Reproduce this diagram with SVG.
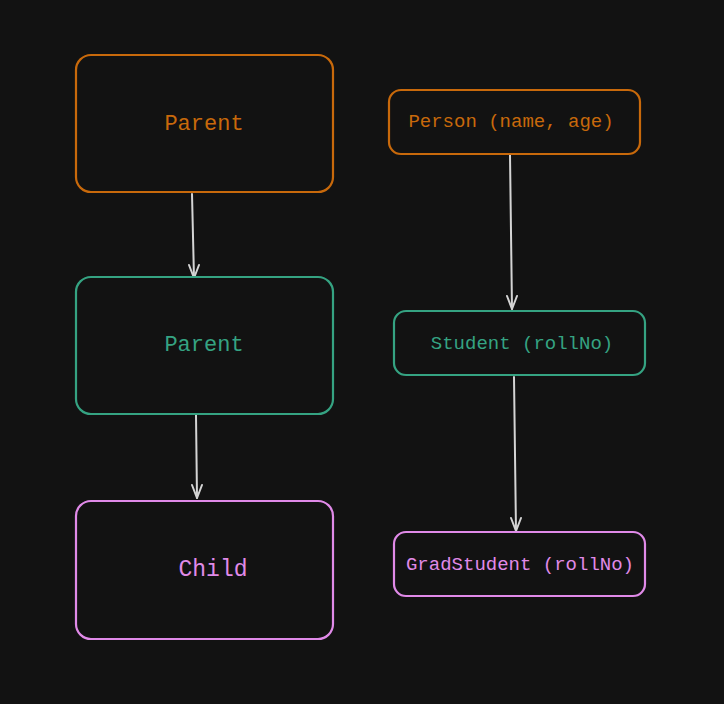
<svg xmlns="http://www.w3.org/2000/svg" width="724" height="704" viewBox="0 0 724 704">
<defs>
<style>
.box{fill:#121212;stroke-width:2.2}
.o{stroke:#c8690b}.g{stroke:#35a382}.p{stroke:#e08ae8}
.t{font-family:"Liberation Mono","DejaVu Sans Mono",monospace;text-anchor:middle}
.to{fill:#c8690b}.tg{fill:#35a382}.tp{fill:#e08ae8}
.c{stroke:#d4d4d4;stroke-width:2;fill:none;stroke-linecap:round;stroke-linejoin:round}
</style>
</defs>
<rect width="724" height="704" fill="#121212"/>
<g id="connectors">
<path class="c" d="M192 194 L194 278"/>
<path class="c" d="M196 415 L197 498"/>
<path class="c" d="M510 155 L512 309"/>
<path class="c" d="M514 377 L516 531"/>
<path class="c" d="M189 265 L194 278 L199 265"/>
<path class="c" d="M192 485 L197 498 L202 485"/>
<path class="c" d="M507 296 L512 309 L517 296"/>
<path class="c" d="M511 518 L516 531 L521 518"/>
</g>
<g id="parent1"><rect class="box o" x="76" y="55" width="257" height="137" rx="15"/><text class="t to" x="204" y="130" font-size="22">Parent</text></g>
<g id="person"><rect class="box o" x="389" y="90" width="251" height="64" rx="12"/><text class="t to" x="511" y="127" font-size="19">Person (name, age)</text></g>
<g id="parent2"><rect class="box g" x="76" y="277" width="257" height="137" rx="15"/><text class="t tg" x="204" y="351" font-size="22">Parent</text></g>
<g id="student"><rect class="box g" x="394" y="311" width="251" height="64" rx="12"/><text class="t tg" x="522" y="349" font-size="19">Student (rollNo)</text></g>
<g id="child"><rect class="box p" x="76" y="501" width="257" height="138" rx="15"/><text class="t tp" x="213" y="576" font-size="23">Child</text></g>
<g id="gradstudent"><rect class="box p" x="394" y="532" width="251" height="64" rx="12"/><text class="t tp" x="520" y="570" font-size="19">GradStudent (rollNo)</text></g>
</svg>
